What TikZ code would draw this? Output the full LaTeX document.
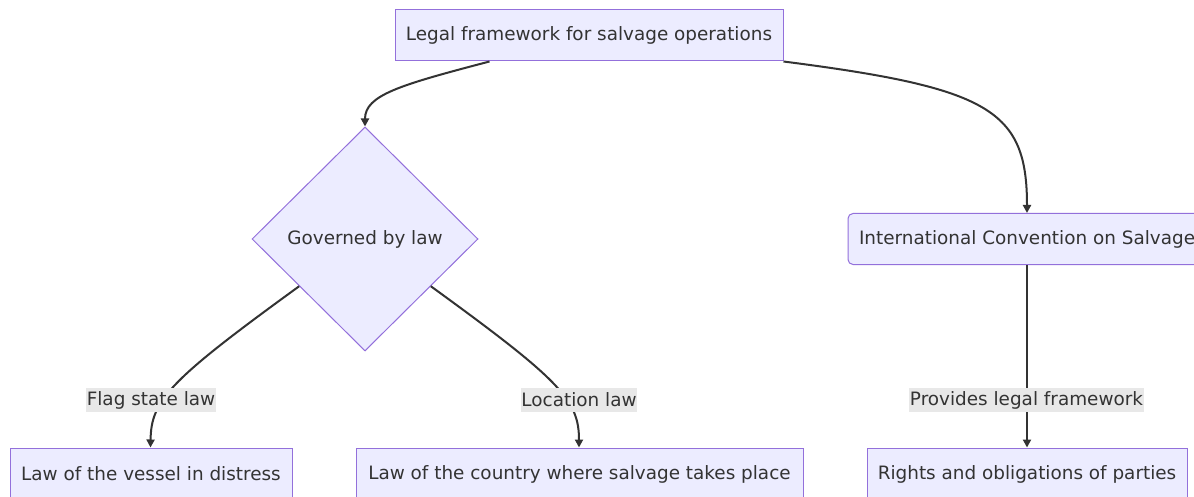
\documentclass[tikz,border=0pt]{standalone}
\usepackage{fontspec}
\setmainfont{DejaVu Sans}
\usetikzlibrary{shapes.geometric,arrows.meta,calc}
\definecolor{nodefill}{HTML}{ECECFF}
\definecolor{nodeline}{HTML}{9370DB}
\definecolor{txt}{HTML}{333333}
\definecolor{edgec}{HTML}{333333}
\definecolor{lblbg}{HTML}{E8E8E8}
\begin{document}
\begin{tikzpicture}[x=1pt,y=-1pt,
  every node/.style={font=\fontsize{18.4}{22}\selectfont, text=txt},
  box/.style={draw=nodeline, fill=nodefill, line width=1pt, inner sep=0pt, minimum height=51pt},
  rbox/.style={box, rounded corners=5pt},
  decision/.style={diamond, draw=nodeline, fill=nodefill, line width=1pt, inner sep=0pt, minimum width=226pt, minimum height=224pt},
  lbl/.style={fill=lblbg, inner sep=0.5pt, minimum height=24pt},
  link/.style={draw=edgec, line width=2pt, -{Triangle[length=8pt,width=8pt]}}
]
\clip (0,0) rectangle (1194,497);
\fill[white] (0,0) rectangle (1194,497);

\node[box, minimum width=388pt] (T) at (589,35.5) {Legal framework for salvage operations};
\node[decision] (D) at (365,239) {Governed by law};
\node[rbox, minimum width=358pt] (R) at (1027,239) {International Convention on Salvage};
\node[box, minimum width=282pt, minimum height=52pt] (B1) at (151,474) {Law of the vessel in distress};
\node[box, minimum width=447pt, minimum height=52pt] (B2) at (579.5,474) {Law of the country where salvage takes place};
\node[box, minimum width=320pt, minimum height=52pt] (B3) at (1027,474) {Rights and obligations of parties};

\coordinate (tsw) at ([xshift=95pt]T.south west);
\coordinate (dl) at ($(D.west)!0.42!(D.south)$);
\coordinate (dr) at ($(D.east)!0.42!(D.south)$);

\draw[link] (tsw) .. controls (400,85) and (365,95) .. (D.north);
\draw[link] (T.south east) .. controls (990,88) and (1027,110) .. (R.north);
\draw[link] (dl) .. controls (170,380) and (151,400) .. ([xshift=-0.5pt]B1.north);
\draw[link] (dr) .. controls (560,380) and (579,400) .. ([xshift=-0.5pt]B2.north);
\draw[link] (R.south) -- (B3.north);

\node[lbl] (L1) at (151,400) {Flag state law};
\node[lbl] (L2) at (579,400) {Location law};
\node[lbl] (L3) at (1026.5,400) {Provides legal framework};
\end{tikzpicture}
\end{document}
